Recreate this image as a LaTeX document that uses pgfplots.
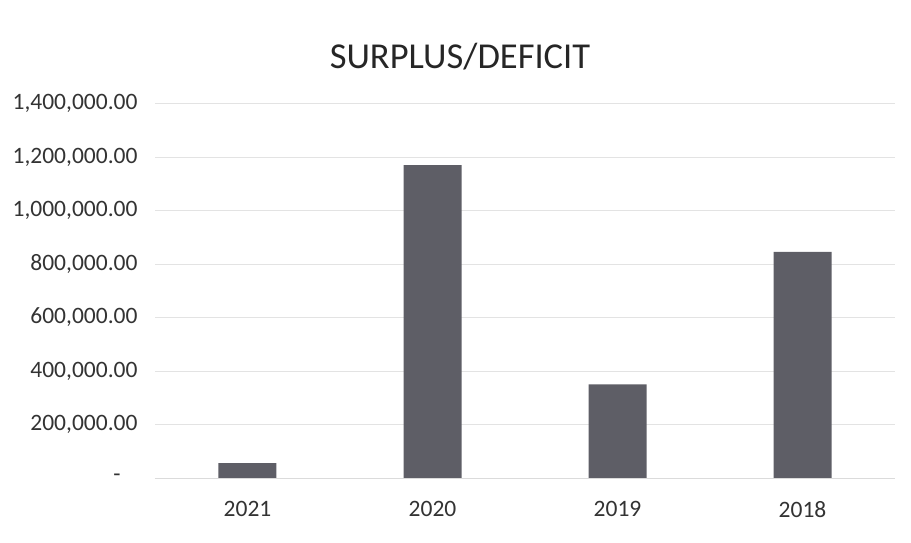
\documentclass[border=0pt]{standalone}
\usepackage{fontspec}
\setmainfont{Carlito}
\usepackage{pgfplots}
\pgfplotsset{compat=1.18}
\definecolor{barc}{HTML}{5E5E66}
\begin{document}
\begin{tikzpicture}
\useasboundingbox (-155bp,-65bp) rectangle (756bp,478bp);
\begin{axis}[
  at={(0,0)}, anchor=south west,
  scale only axis,
  width=740bp, height=374.5bp,
  xmin=-0.5, xmax=3.5,
  ymin=0, ymax=1400000,
  scaled y ticks=false,
  xtick=data,
  xticklabels={2021,2020,2019,2018},
  ytick={0,200000,400000,600000,800000,1000000,1200000,1400000},
  yticklabels={{-\rule{0pt}{1pt}\rule{17bp}{0pt}},{200,000.00},{400,000.00},{600,000.00},{800,000.00},{1,000,000.00},{1,200,000.00},{1,400,000.00}},
  ymajorgrids,
  grid style={gray!22, line width=0.6pt},
  axis line style={draw=none},
  major tick length=0pt,
  tick label style={font=\fontsize{23.5bp}{28bp}\selectfont, text=black!80},
  yticklabel style={xshift=-14bp},
  xticklabel style={yshift=-20bp},
  /pgf/number format/assume math mode=true,
  ybar, bar width=58bp,
  clip=false,
]
\addplot[fill=barc, draw=none] coordinates {(0,56000) (1,1170000) (2,350000) (3,845000)};
\draw[gray!28, line width=0.6pt] (axis cs:-0.5,0) -- (axis cs:3.5,0);
\end{axis}
\node[font=\fontsize{36.5bp}{42bp}\selectfont, text=black!85] at (305bp,421bp) {SURPLUS/DEFICIT};
\end{tikzpicture}
\end{document}
